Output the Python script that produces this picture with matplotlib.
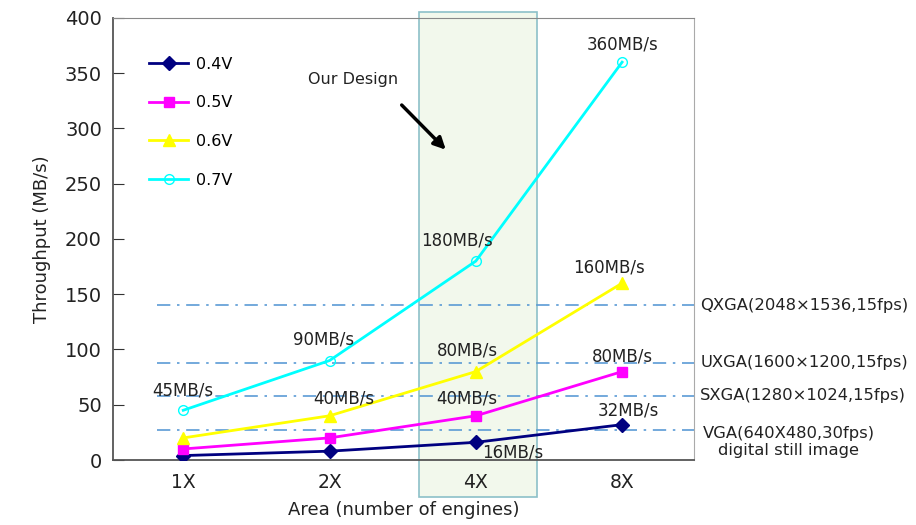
import numpy as np
import matplotlib
matplotlib.use('Agg')
import matplotlib.pyplot as plt

engines = ['1X', '2X', '4X', '8X']
v04 = [4, 8, 16, 32]
v05 = [10, 20, 40, 80]
v06 = [20, 40, 80, 160]
v07 = [45, 90, 180, 360]

ref_values = [140, 88, 58, 27]
ref_labels = ['QXGA(2048\u00d71536,15fps)', 'UXGA(1600\u00d71200,15fps)',
              'SXGA(1280\u00d71024,15fps)', 'VGA(640X480,30fps)\ndigital still image']

plt.rcParams['font.family'] = 'DejaVu Sans'
fig = plt.figure(figsize=(9.16, 5.25), dpi=100)
ax = fig.add_axes([0.1234, 0.1238, 0.634, 0.842])

x = np.arange(len(engines))

# highlighted "our design" region
ax.add_patch(plt.Rectangle((1.61, -33.5), 0.81, 439, facecolor='#F2F8EC',
                           edgecolor='#8CC0C8', linewidth=1.2, clip_on=False, zorder=0))

# reference lines
for val in ref_values:
    ax.plot([-0.18, 3.49], [val, val], color='#5B9BD5', linestyle=(0, (8, 4, 1.5, 4)),
            linewidth=1.2, zorder=1)

ax.plot(x, v04, color='#000080', marker='D', markersize=7, linewidth=2, label='0.4V', zorder=3)
ax.plot(x, v05, color='#FF00FF', marker='s', markersize=7, linewidth=2, label='0.5V', zorder=3)
ax.plot(x, v06, color='#FFFF00', marker='^', markersize=8, linewidth=2, label='0.6V', zorder=3)
ax.plot(x, v07, color='#00FFFF', marker='o', markersize=7, markerfacecolor='none',
        linewidth=2, label='0.7V', zorder=3)

ax.set_xlim(-0.48, 3.49)
ax.set_ylim(0, 400)
ax.set_xticks(x)
ax.set_xticklabels(engines, fontsize=13.5, color='#222222')
ax.set_yticks(range(0, 401, 50))
ax.tick_params(axis='y', direction='in', length=8, labelsize=14, colors='#222222', pad=8)
ax.tick_params(axis='y', color='#333333')
ax.tick_params(axis='x', length=0, pad=9)
ax.spines['left'].set_color('#555555')
ax.spines['bottom'].set_color('#555555')
ax.spines['top'].set_color('#888888')
ax.spines['right'].set_color('#AAAAAA')
ax.spines['left'].set_linewidth(1.3)
ax.spines['bottom'].set_linewidth(1.3)

ax.set_ylabel('Throughput (MB/s)', fontsize=13, color='#222222', labelpad=10)
ax.set_xlabel('Area (number of engines)', fontsize=13, color='#222222', labelpad=7)

leg = ax.legend(loc='upper left', bbox_to_anchor=(0.038, 0.945), frameon=False,
                fontsize=11.5, handlelength=2.4, labelspacing=1.48, handletextpad=0.5)

# value annotations
lab_kw = dict(fontsize=12, color='#222222', ha='center', va='center')
ax.text(3.0, 375.6, '360MB/s', **lab_kw)
ax.text(1.87, 199, '180MB/s', **lab_kw)
ax.text(2.91, 173.8, '160MB/s', **lab_kw)
ax.text(0.96, 108.6, '90MB/s', **lab_kw)
ax.text(1.94, 99.5, '80MB/s', **lab_kw)
ax.text(3.0, 94, '80MB/s', **lab_kw)
ax.text(0.0, 63, '45MB/s', **lab_kw)
ax.text(1.1, 56, '40MB/s', **lab_kw)
ax.text(1.94, 56, '40MB/s', **lab_kw)
ax.text(3.04, 45, '32MB/s', **lab_kw)
ax.text(2.25, 7, '16MB/s', **lab_kw)

# resolution labels
for val, lab in zip(ref_values[:3], ref_labels[:3]):
    ax.text(1.011, val, lab, transform=ax.get_yaxis_transform(), fontsize=11.8,
            color='#222222', ha='left', va='center', clip_on=False)
ax.text(1.163, 16.3, ref_labels[3], transform=ax.get_yaxis_transform(), fontsize=11.8,
        color='#222222', ha='center', va='center', multialignment='center', clip_on=False)

ax.text(1.16, 344, 'Our Design', fontsize=11.5, color='#222222', ha='center', va='center')
ax.annotate('', xy=(1.808, 279), xytext=(1.48, 323),
            arrowprops=dict(arrowstyle='-|>,head_length=0.7,head_width=0.35',
                            color='black', linewidth=2.5))

fig.savefig('out.png', dpi=100)
plt.close(fig)
